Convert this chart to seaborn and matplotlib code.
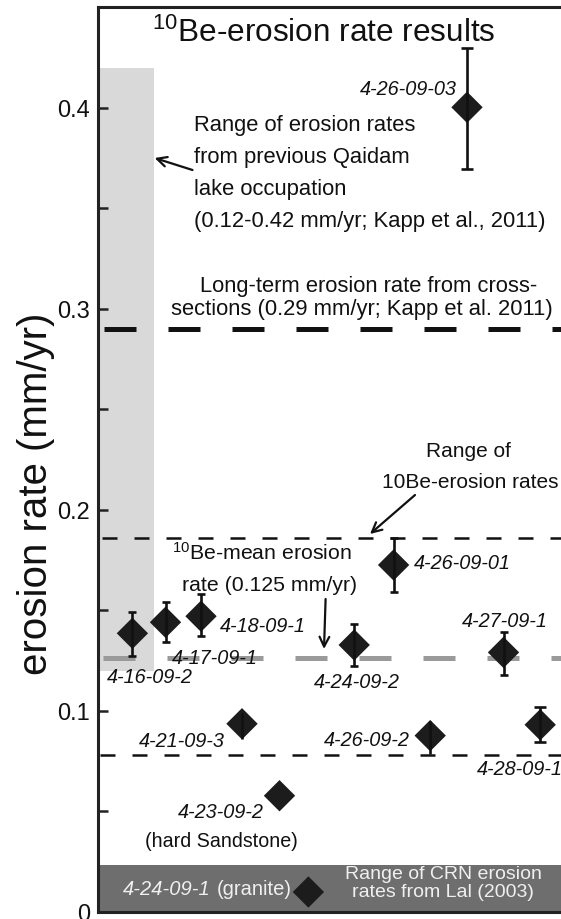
import numpy as np
import pandas as pd
import matplotlib
matplotlib.use("Agg")
import matplotlib.pyplot as plt
import seaborn as sns

# ---------------- data ----------------
samples = ["4-16-09-2", "4-17-09-1", "4-18-09-1", "4-21-09-3", "4-23-09-2",
           "4-24-09-1", "4-24-09-2", "4-26-09-01", "4-26-09-2", "4-26-09-03",
           "4-27-09-1", "4-28-09-1"]
sample_pos = [34.7, 67.8, 103.3, 144.3, 181.8, 210.7, 256.5, 295.9, 332.5,
              369.3, 405.8, 442.5]
rate = [0.1385, 0.144, 0.147, 0.0935, 0.0577, 0.0098, 0.1327, 0.1725,
        0.0876, 0.4002, 0.129, 0.093]
err_low = [0.127, 0.134, 0.137, 0.086, np.nan, np.nan, 0.122, 0.159,
           0.0786, 0.3695, 0.118, 0.0846]
err_high = [0.149, 0.154, 0.158, 0.099, np.nan, np.nan, 0.143, 0.186,
            0.095, 0.4296, 0.139, 0.102]

qaidam_range = [0.12, 0.42]     # Kapp et al., 2011
lal_range = [0.0, 0.023]        # Lal (2003)
longterm_rate = 0.29
be_range = [0.078, 0.186]
be_mean = 0.126

y_ticks = [0, 0.1, 0.2, 0.3, 0.4]
y_tick_labels = ["0", "0.1", "0.2", "0.3", "0.4"]
y_minor_ticks = [0.05, 0.15, 0.25, 0.35]

df = pd.DataFrame({"sample": samples, "pos": sample_pos, "rate": rate,
                   "lo": err_low, "hi": err_high})

# ---------------- style ----------------
sns.set_style("white")
plt.rcParams["font.family"] = ["Liberation Sans", "DejaVu Sans"]
plt.rcParams["mathtext.fontset"] = "custom"
plt.rcParams["mathtext.rm"] = "Liberation Sans"
plt.rcParams["mathtext.it"] = "Liberation Sans:italic"
plt.rcParams["mathtext.bf"] = "Liberation Sans:bold"

W, H = 561, 920
AX_L, AX_T, AX_B = 97.7, 8.2, 912.7
fig = plt.figure(figsize=(W / 100, H / 100), dpi=100)
fig.patch.set_facecolor("white")
ax = fig.add_axes([AX_L / W, 1 - AX_B / H, 1 - AX_L / W, (AX_B - AX_T) / H])
ax.set_xlim(0, W - AX_L)
ax.set_ylim(0, 0.45)
ax.set_facecolor("white")

# background ranges
ax.fill_between([0, 56.3], qaidam_range[0], qaidam_range[1],
                color="#d9d9d9", lw=0, zorder=0.5)
ax.axhspan(lal_range[0], lal_range[1], color="#6e6e6e", lw=0, zorder=1)

# horizontal reference lines
ax.axhline(longterm_rate, color="#111111", lw=3.6,
           linestyle=(11.6, (6.4, 6.4)), zorder=2)
ax.axhline(be_range[1], color="#111111", lw=1.8,
           linestyle=(11.2, (6.0, 6.8)), zorder=2)
ax.axhline(be_range[0], color="#111111", lw=1.8,
           linestyle=(12.0, (6.0, 6.8)), zorder=2)
ax.axhline(be_mean, color="#9a9a9a", lw=3.6,
           linestyle=(11.8, (6.4, 6.4)), zorder=3.5)

# points
sns.scatterplot(data=df, x="pos", y="rate", marker="D", s=255,
                color="#1c1c1c", edgecolor="none", linewidth=0,
                zorder=4, ax=ax, legend=False)

cap_pt = {"4-26-09-03": 4.6, "4-28-09-1": 4.6, "4-21-09-3": 0, "4-26-09-2": 0}
for _, r in df.dropna().iterrows():
    ax.errorbar([r.pos], [r.rate], yerr=[[r.rate - r.lo], [r.hi - r.rate]],
                fmt="none", ecolor="#111111", elinewidth=1.9,
                capsize=cap_pt.get(r["sample"], 3.0), capthick=1.9, zorder=5)

# axes styling
ax.set_xticks([])
ax.set_xlabel("")
ax.set_yticks(y_ticks)
ax.set_yticklabels(y_tick_labels)
ax.set_yticks(y_minor_ticks, minor=True)
ax.tick_params(axis="y", which="both", direction="in", length=7, width=1.8,
               color="#222222", pad=5.5, labelsize=17, labelcolor="#111111",
               left=True)
ax.tick_params(axis="y", which="minor", labelleft=False)
for side in ["left", "top", "bottom"]:
    ax.spines[side].set_linewidth(2.2)
    ax.spines[side].set_color("#222222")
ax.spines["right"].set_visible(False)

ax.set_ylabel("erosion rate (mm/yr)", fontsize=29, color="#111111")
ax.yaxis.set_label_coords(-0.0922, (AX_B - 493.5) / (AX_B - AX_T))


# ---------------- text (figure pixel positions) ----------------
def ftxt(x, y, s, **kw):
    kw.setdefault("color", "#111111")
    fig.text(x / W, 1 - y / H, s, va="baseline", **kw)


def farrow(tail, head):
    ax.annotate("", xy=(head[0] / W, 1 - head[1] / H), xycoords="figure fraction",
                xytext=(tail[0] / W, 1 - tail[1] / H), textcoords="figure fraction",
                arrowprops=dict(arrowstyle="->,head_length=0.7,head_width=0.35",
                                lw=1.6, color="#111111", shrinkA=0, shrinkB=0),
                zorder=6)


ftxt(151.7, 41.7, r"$^{10}$Be-erosion rate results", fontsize=22.7, ha="left")

big = 15.8
for i, line in enumerate(["Range of erosion rates", "from previous Qaidam",
                          "lake occupation",
                          "(0.12-0.42 mm/yr; Kapp et al., 2011)"]):
    ftxt(194, 130.7 + 32 * i, line, fontsize=big, ha="left")
farrow((192.5, 171), (154.6, 159))

ftxt(368.5, 291.7, "Long-term erosion rate from cross-", fontsize=big, ha="center")
ftxt(362, 315, "sections (0.29 mm/yr; Kapp et al. 2011)", fontsize=big, ha="center")

ftxt(468, 456.7, "Range of", fontsize=15, ha="center")
ftxt(382, 488.3, "10Be-erosion rates", fontsize=15, ha="left")
farrow((415, 496), (370, 535))

ftxt(171.7, 560, r"$^{10}$Be-mean erosion", fontsize=15.3, ha="left")
ftxt(182, 591, "rate (0.125 mm/yr)", fontsize=15.3, ha="left")
farrow((325.6, 600), (324, 650))

lab = 14.3
sample_labels = [
    ("4-16-09-2", 150, 683, "center"),
    ("4-17-09-1", 171.7, 664, "left"),
    ("4-18-09-1", 220, 631.7, "left"),
    ("4-21-09-3", 225, 746.7, "right"),
    ("4-23-09-2", 263.3, 818.3, "right"),
    ("4-24-09-2", 357, 688, "center"),
    ("4-26-09-01", 414.3, 569.3, "left"),
    ("4-26-09-2", 410, 746, "right"),
    ("4-26-09-03", 457, 95, "right"),
    ("4-27-09-1", 505, 626.7, "center"),
    ("4-28-09-1", 476.7, 775, "left"),
]
for s, x, y, ha in sample_labels:
    ftxt(x, y, s, fontsize=lab, style="italic", ha=ha)

ftxt(221, 846.7, "(hard Sandstone)", fontsize=14.1, ha="center")

ftxt(123, 895, "4-24-09-1", fontsize=14.5, style="italic", ha="left", color="#f0f0f0")
ftxt(217, 895, "(granite)", fontsize=14.5, ha="left", color="#f0f0f0")
ftxt(443, 879, "Range of CRN erosion", fontsize=14, ha="center", color="#f0f0f0")
ftxt(443, 897.5, "rates from Lal (2003)", fontsize=14, ha="center", color="#f0f0f0")

fig.savefig("out.png", dpi=100, facecolor="white")
